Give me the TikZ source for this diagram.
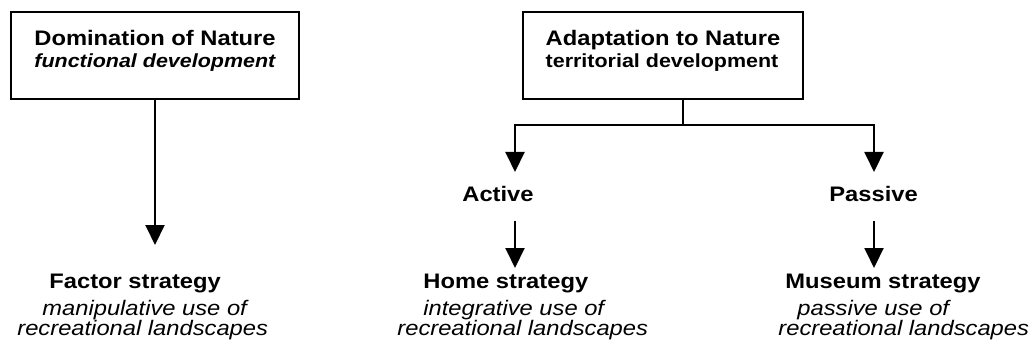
\documentclass[tikz,border=0pt]{standalone}
\usepackage{fontspec}
\setmainfont{Liberation Sans}[FakeStretch=1.13]
\usetikzlibrary{arrows.meta}

\begin{document}
\begin{tikzpicture}[x=0.5pt,y=-0.5pt,
  box/.style={draw,line width=1pt,minimum height=43.5pt,align=left,inner sep=0pt,
    font=\fontsize{10.5}{11}\selectfont},
  lbl/.style={anchor=base west,inner sep=0pt},
  head/.style={lbl,font=\fontsize{10.5}{12}\selectfont\bfseries},
  desc/.style={lbl,font=\fontsize{10.5}{12}\selectfont\itshape},
  arr/.style={line width=1pt,-{Triangle[width=9.5pt,length=10pt]}}]
  \useasboundingbox (0,0) rectangle (1036,347);

  % the two boxes
  \node[box,minimum width=144pt] (dom) at (155,55.5)
    {{\bfseries Domination of Nature}\\
     {\fontsize{9.5}{11}\selectfont\bfseries\itshape functional development\rule[-7pt]{0pt}{7pt}}};
  \node[box,minimum width=140pt] (adapt) at (663,55.5)
    {{\bfseries Adaptation to Nature}\\
     {\fontsize{9.5}{11}\selectfont\bfseries territorial development\rule[-7pt]{0pt}{7pt}}};

  % middle level
  \node[head] (active) at (462,201) {Active};
  \node[head] (passive) at (829,201) {Passive};

  % strategies
  \node[head] (factor) at (49,288) {Factor strategy};
  \node[desc] (factor1) at (42,315) {manipulative use of};
  \node[desc] (factor2) at (17,335) {recreational landscapes};
  \node[head] (home) at (423,288) {Home strategy};
  \node[desc] (home1) at (423,315) {integrative use of};
  \node[desc] (home2) at (397,335) {recreational landscapes};
  \node[head] (museum) at (785,288) {Museum strategy};
  \node[desc] (museum1) at (797,315) {passive use of};
  \node[desc] (museum2) at (778,335) {recreational landscapes};

  % arrow ends
  \coordinate (factortip) at (155,245);
  \coordinate (fork) at (683,125);
  \coordinate (activetip) at (515,172);
  \coordinate (passivetip) at (874,172);
  \coordinate (activeout) at (515,221);
  \coordinate (passiveout) at (874,221);
  \coordinate (hometip) at (515,268);
  \coordinate (museumtip) at (874,268);

  \draw[arr] (dom.south) -- (factortip);
  \draw[line width=1pt] (adapt.south -| fork) -- (fork);
  \draw[arr] (fork) -| (activetip);
  \draw[arr] (fork) -| (passivetip);
  \draw[arr] (activeout) -- (hometip);
  \draw[arr] (passiveout) -- (museumtip);
\end{tikzpicture}
\end{document}
